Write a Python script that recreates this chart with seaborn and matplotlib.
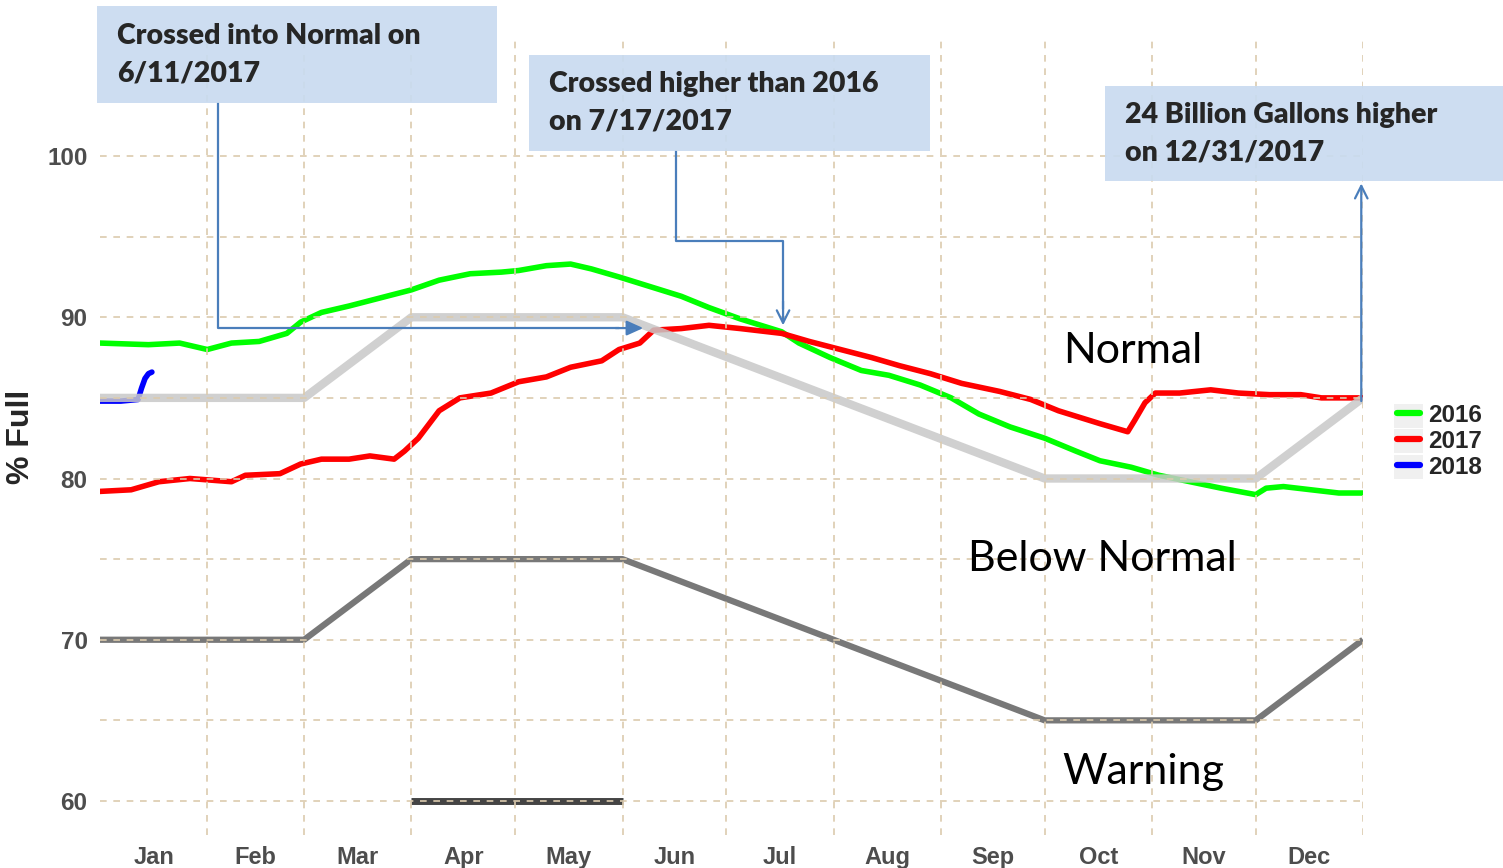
import numpy as np
import pandas as pd
import matplotlib
matplotlib.use("Agg")
import matplotlib.pyplot as plt
import seaborn as sns
from matplotlib.patches import Rectangle

# Reservoir storage, % full, by day of year
days_2016 = [0, 14, 23, 31, 38, 46, 54, 58, 64, 72, 81, 90, 98, 107, 116, 121, 129, 136,
             142, 150, 159, 168, 176, 185, 197, 202, 211, 220, 228, 237, 246, 254, 263,
             273, 282, 289, 298, 306, 315, 324, 334, 337, 342, 350, 358, 365]
pct_2016 = [88.4, 88.3, 88.4, 88.0, 88.4, 88.5, 89.0, 89.7, 90.3, 90.7, 91.2, 91.7, 92.3,
            92.7, 92.8, 92.9, 93.2, 93.3, 93.0, 92.5, 91.9, 91.3, 90.6, 89.9, 89.1, 88.4,
            87.5, 86.7, 86.4, 85.8, 85.0, 84.0, 83.2, 82.5, 81.7, 81.1, 80.7, 80.2, 79.8,
            79.4, 79.0, 79.4, 79.5, 79.3, 79.1, 79.1]

days_2017 = [0, 9, 17, 26, 38, 42, 52, 58, 64, 72, 78, 85, 88, 92, 98, 104, 113, 121, 129,
             136, 145, 150, 156, 160, 168, 176, 185, 197, 205, 214, 223, 231, 240, 249,
             260, 269, 277, 283, 289, 297, 299, 302, 305, 312, 321, 329, 338, 347, 353,
             360, 365]
pct_2017 = [79.2, 79.3, 79.8, 80.0, 79.8, 80.2, 80.3, 80.9, 81.2, 81.2, 81.4, 81.2, 81.7,
            82.5, 84.2, 85.0, 85.3, 86.0, 86.3, 86.9, 87.3, 88.0, 88.4, 89.2, 89.3, 89.5,
            89.3, 89.0, 88.5, 88.0, 87.5, 87.0, 86.5, 85.9, 85.4, 84.9, 84.2, 83.8, 83.4,
            82.9, 83.6, 84.7, 85.3, 85.3, 85.5, 85.3, 85.2, 85.2, 85.0, 85.0, 85.0]

days_2018 = [0, 6, 11, 12, 13, 14, 15]
pct_2018 = [84.8, 84.8, 84.9, 85.6, 86.2, 86.5, 86.6]

# rule curves
rule_days = [0, 59, 90, 151, 273, 334, 365]
normal_curve = [85, 85, 90, 90, 80, 80, 85]
warning_curve = [70, 70, 75, 75, 65, 65, 70]
emergency_days = [90, 151]
emergency_curve = [60, 60]

month_edges = [0, 31, 59, 90, 120, 151, 181, 212, 243, 273, 304, 334, 365]
month_labels = ["Jan", "Feb", "Mar", "Apr", "May", "Jun", "Jul", "Aug", "Sep", "Oct", "Nov", "Dec"]

df = pd.concat([
    pd.DataFrame({"day": days_2016, "pct": pct_2016, "year": "2016"}),
    pd.DataFrame({"day": days_2017, "pct": pct_2017, "year": "2017"}),
    pd.DataFrame({"day": days_2018, "pct": pct_2018, "year": "2018"}),
])

sns.set_style("white")
plt.rcParams["font.family"] = ["Liberation Sans", "DejaVu Sans"]

W, H = 1503, 868
fig = plt.figure(figsize=(W / 100, H / 100), dpi=100)
ax = fig.add_axes([100 / W, 1 - 835 / H, 1263 / W, 797 / H])

sns.lineplot(data=df, x="day", y="pct", hue="year", ax=ax, lw=4.0, zorder=2,
             palette={"2016": "#00ff00", "2017": "#ff0000", "2018": "#0000ff"})

ax.plot(rule_days, normal_curve, color="#c8c8c8", lw=6, alpha=0.85, zorder=2.2,
        solid_capstyle="butt")
ax.plot(rule_days, warning_curve, color="#787878", lw=4.5, zorder=2.2, solid_capstyle="butt")
ax.plot(emergency_days, emergency_curve, color="#444444", lw=5, zorder=2.2,
        solid_capstyle="butt")

ax.set_xlim(0, 365)
ax.set_ylim(57.89, 107.32)

# grid at month edges, labels at mid-month
ax.set_xticks(month_edges[1:])
ax.set_xticklabels([])
mids = [(a + b) / 2 for a, b in zip(month_edges[:-1], month_edges[1:])]
ax.set_xticks(mids, minor=True)
ax.set_xticklabels(month_labels, minor=True)
ax.set_yticks(np.arange(60, 101, 5))
ax.set_yticklabels([str(v) if v % 10 == 0 else "" for v in range(60, 101, 5)])
ax.tick_params(which="both", length=0)
ax.tick_params(axis="x", which="minor", pad=8, labelsize=17, labelcolor="#4d4d4d")
ax.tick_params(axis="y", pad=9, labelsize=17.5, labelcolor="#4d4d4d")
for lab in ax.get_xticklabels(minor=True) + ax.get_yticklabels():
    lab.set_fontweight("bold")

ax.set_axisbelow(False)
ax.grid(True, which="major", color="#dccbae", ls=(0, (4, 4)), lw=1.2)
for s in ax.spines.values():
    s.set_visible(False)

ax.set_xlabel("")
ax.set_ylabel("% Full", fontsize=23, fontweight="bold", labelpad=8)

# legend with light grey key boxes (behind the axes layer)
for yk in (404, 429, 455):
    fig.patches.append(Rectangle((1394 / W, 1 - (yk + 24) / H), 29 / W, 24 / H,
                                 transform=fig.transFigure, facecolor="#f0f0f0",
                                 edgecolor="none", zorder=-1))
leg = ax.legend(loc="center left", bbox_to_anchor=(1.0176, 0.494), frameon=False,
                prop={"weight": "bold", "size": 17.5}, handlelength=0.95,
                handletextpad=0.3, labelspacing=0.12, borderpad=0)
for h in leg.get_lines():
    h.set_linewidth(4.5)

# zone labels
zone_font = dict(fontsize=31, family="Lato", ha="center", va="center", color="black")
ax.text(298.6, 87.9, "Normal", **zone_font)
ax.text(289.6, 75.0, "Below Normal", **zone_font)
ax.text(301.4, 61.8, "Warning", **zone_font)

# callout boxes
box_col = "#c9dbf0"
boxes = [
    ((97, 6, 497, 103), "Crossed into Normal on\n6/11/2017"),
    ((529, 55, 930, 151), "Crossed higher than 2016\non 7/17/2017"),
    ((1105, 86, 1503, 181), "24 Billion Gallons higher\non 12/31/2017"),
]
for (x0, y0, x1, y1), txt in boxes:
    fig.patches.append(Rectangle((x0 / W, 1 - y1 / H), (x1 - x0) / W, (y1 - y0) / H,
                                 transform=fig.transFigure, facecolor=box_col,
                                 edgecolor="none", alpha=0.92, zorder=5))
    fig.text((x0 + 20) / W, 1 - (y0 + y1) / 2 / H, txt, fontsize=20.5, family="Lato",
             fontweight="heavy", va="center", ha="left", linespacing=1.55, zorder=6)

# callout arrows
arrow_col = "#4a7ebb"
ax.plot([34.1, 34.1, 150], [103.3, 89.33, 89.33], color=arrow_col, lw=1.6, clip_on=False, zorder=4)
ax.annotate("", xy=(157, 89.33), xytext=(149, 89.33),
            arrowprops=dict(arrowstyle="-|>,head_length=1.0,head_width=0.45",
                            color=arrow_col, lw=1.6, shrinkA=0, shrinkB=0), zorder=4)
ax.plot([166.5, 166.5, 197.4, 197.4], [100.3, 94.73, 94.73, 90.5], color=arrow_col, lw=1.6,
        clip_on=False, zorder=4)
ax.annotate("", xy=(197.4, 89.5), xytext=(197.4, 91),
            arrowprops=dict(arrowstyle="->,head_length=0.9,head_width=0.45",
                            color=arrow_col, lw=1.6, shrinkA=0, shrinkB=0), zorder=4)
ax.annotate("", xy=(364.5, 98.3), xytext=(364.5, 84.8),
            arrowprops=dict(arrowstyle="->,head_length=0.9,head_width=0.45",
                            color=arrow_col, lw=1.6, shrinkA=0, shrinkB=0), zorder=4,
            annotation_clip=False)

fig.savefig("out.png", dpi=100)
